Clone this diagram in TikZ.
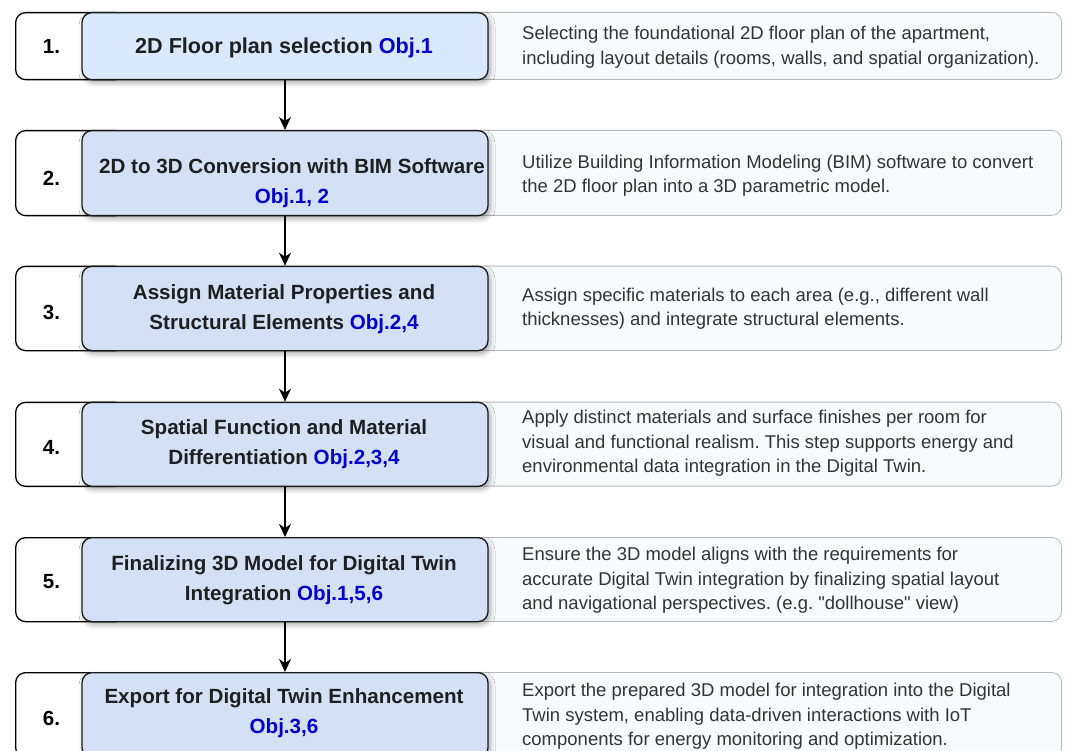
\documentclass[tikz,border=0pt]{standalone}
\usepackage{fontspec}
\setmainfont{Liberation Sans}[Ligatures=TeXOff]
\usetikzlibrary{arrows.meta,shadows.blur}
\frenchspacing
\definecolor{stepfillA}{HTML}{DAE8FC}
\definecolor{stepfill}{HTML}{D4E1F5}
\definecolor{descfill}{HTML}{F8FBFE}
\definecolor{descline}{HTML}{B8B8B8}
\definecolor{objblue}{HTML}{0000CC}
\definecolor{titlecol}{HTML}{1F1F1F}
\definecolor{desccol}{HTML}{333333}
\tikzset{
 numbox/.style={draw=black, line width=1.3pt, rounded corners=10pt, fill=white, anchor=north west, minimum width=110pt, inner sep=0pt},
 descbox/.style={draw=descline, line width=0.8pt, rounded corners=10pt, fill=descfill, anchor=north east, minimum width=600pt, inner sep=0pt},
 stepbox/.style={draw=black!90, line width=1.3pt, rounded corners=10pt, fill=stepfill, anchor=north, minimum width=406pt, inner sep=0pt,
   blur shadow={shadow xshift=2pt, shadow yshift=-3pt, shadow blur radius=5pt, shadow opacity=35}},
 numtxt/.style={font=\fontsize{20.5}{24}\bfseries, text=black},
 titletxt/.style={font=\fontsize{20.6}{30}\bfseries, text=titlecol, align=center, inner sep=0pt},
 desctxt/.style={font=\fontsize{18.5}{24.5}\selectfont\frenchspacing, text=desccol, align=left, anchor=west, inner sep=0pt},
 flow/.style={line width=1.3pt, -{Stealth[length=13pt,width=12pt,inset=4pt]}},
}
\begin{document}
\begin{tikzpicture}[x=1pt,y=-1pt]
\useasboundingbox (0,0) rectangle (1067,751);
\clip (0,0) rectangle (1067,751);
% row 1
\node[descbox, minimum height=67pt] (d1) at (1062,12) {};
\node[numbox, minimum height=67pt] (n1) at (15,12) {};
\node[stepbox, fill=stepfillA, minimum height=67pt] (s1) at (285,12) {};
% row 2
\node[descbox, minimum height=85pt] (d2) at (1062,130) {};
\node[numbox, minimum height=85pt] (n2) at (15,130) {};
\node[stepbox, minimum height=85pt] (s2) at (285,130) {};
% row 3
\node[descbox, minimum height=84.3pt] (d3) at (1062,265.7) {};
\node[numbox, minimum height=84.3pt] (n3) at (15,265.7) {};
\node[stepbox, minimum height=84.3pt] (s3) at (285,265.7) {};
% row 4
\node[descbox, minimum height=84pt] (d4) at (1062,401.7) {};
\node[numbox, minimum height=84pt] (n4) at (15,401.7) {};
\node[stepbox, minimum height=84pt] (s4) at (285,401.7) {};
% row 5
\node[descbox, minimum height=84pt] (d5) at (1062,537) {};
\node[numbox, minimum height=84pt] (n5) at (15,537) {};
\node[stepbox, minimum height=84pt] (s5) at (285,537) {};
% row 6
\node[descbox, minimum height=85pt] (d6) at (1062,672) {};
\node[numbox, minimum height=85pt] (n6) at (15,672) {};
\node[stepbox, minimum height=85pt] (s6) at (285,672) {};

% numbers
\node[numtxt] (l1) at (51.5,46.5) {1.};
\node[numtxt] (l2) at (51.5,178.5) {2.};
\node[numtxt] (l3) at (51.5,312) {3.};
\node[numtxt] (l4) at (51.5,447.5) {4.};
\node[numtxt] (l5) at (51.5,582) {5.};
\node[numtxt] (l6) at (51.5,718) {6.};

% titles
\node[titletxt, font=\fontsize{21.6}{30}\bfseries] (t1) at (284,47.5) {2D Floor plan selection \textcolor{objblue}{Obj.1}};
\node[titletxt] (t2) at (292,183) {2D to 3D Conversion with BIM Software\\\textcolor{objblue}{Obj.1, 2}};
\node[titletxt] (t3) at (284,309) {Assign Material Properties and\\Structural Elements \textcolor{objblue}{Obj.2,4}};
\node[titletxt] (t4) at (284,444.5) {Spatial Function and Material\\Differentiation \textcolor{objblue}{Obj.2,3,4}};
\node[titletxt] (t5) at (284,580) {Finalizing 3D Model for Digital Twin\\Integration \textcolor{objblue}{Obj.1,5,6}};
\node[titletxt] (t6) at (284,713) {Export for Digital Twin Enhancement\\\textcolor{objblue}{Obj.3,6}};

% descriptions
\node[desctxt] (x1) at (522,47) {Selecting the foundational 2D floor plan of the apartment,\\including layout details (rooms, walls, and spatial organization).};
\node[desctxt] (x2) at (522,175.5) {Utilize Building Information Modeling (BIM) software to convert\\the 2D floor plan into a 3D parametric model.};
\node[desctxt] (x3) at (522,308.5) {Assign specific materials to each area (e.g., different wall\\thicknesses) and integrate structural elements.};
\node[desctxt] (x4) at (522,443.5) {Apply distinct materials and surface finishes per room for\\visual and functional realism. This step supports energy and\\environmental data integration in the Digital Twin.};
\node[desctxt] (x5) at (522,580.5) {Ensure the 3D model aligns with the requirements for\\accurate Digital Twin integration by finalizing spatial layout\\and navigational perspectives. (e.g. "dollhouse" view)};
\node[desctxt] (x6) at (522,716.5) {Export the prepared 3D model for integration into the Digital\\Twin system, enabling data-driven interactions with IoT\\components for energy monitoring and optimization.};

% connectors
\draw[flow] (s1.south) -- (s2.north);
\draw[flow] (s2.south) -- (s3.north);
\draw[flow] (s3.south) -- (s4.north);
\draw[flow] (s4.south) -- (s5.north);
\draw[flow] (s5.south) -- (s6.north);
\end{tikzpicture}
\end{document}
